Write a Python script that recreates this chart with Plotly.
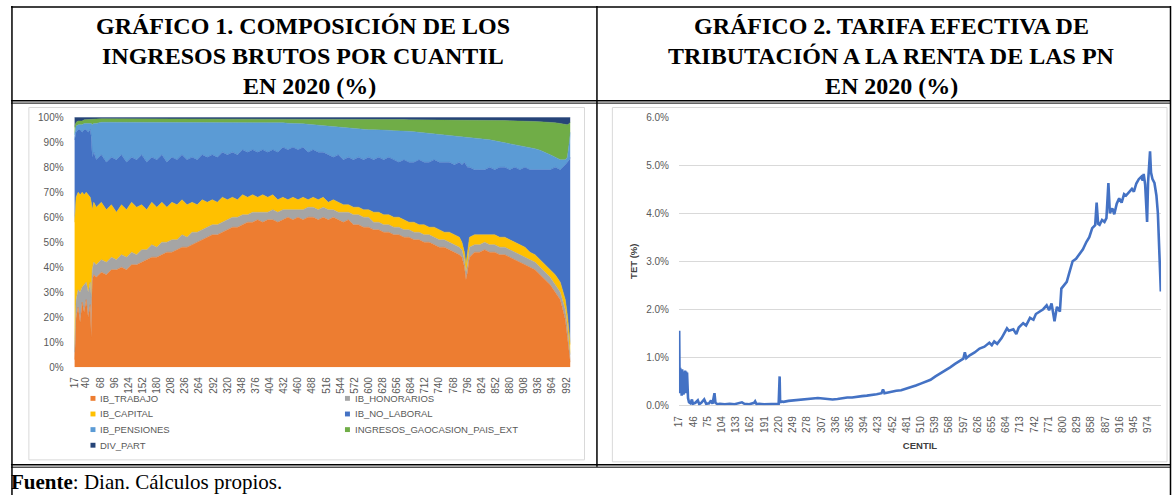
import plotly.graph_objects as go

W, H = 1173, 501

# ---------------- Chart 1 data: composition of gross income by quantile (%)
cent1 = [17, 20, 24, 28, 32, 36, 40, 44, 48, 50, 52, 55,
         60, 70, 80, 90, 100, 110, 120, 130, 140, 150, 160, 170, 180, 190, 200,
         210, 220, 230, 240, 250, 260, 270, 280, 290, 300, 310, 320, 330, 340,
         350, 360, 370, 380, 390, 400, 410, 420, 430, 440, 450, 460, 470, 480,
         490, 500, 510, 520, 530, 540, 550, 560, 570, 580, 590, 600, 610, 620,
         630, 640, 650, 660, 670, 680, 690, 700, 710, 720, 730, 740, 750, 760,
         770, 780, 785, 790, 793, 796, 800, 810, 820, 830, 840, 850, 860, 870,
         880, 890, 900, 910, 920, 930, 940, 950, 960, 970, 980, 990, 994, 998, 1000]

ib_trabajo = [3, 20, 24, 18, 26, 22, 27, 20, 25, 12, 35, 37,
              36, 38, 37, 39, 39, 40, 39, 41, 41, 42, 43, 44, 44, 45, 46,
              46, 47, 48, 48, 49, 50, 51, 52, 53, 53, 54, 55, 56, 56,
              57, 58, 58, 59, 58, 59, 59, 58, 59, 60, 59, 60, 59, 60,
              60, 59, 60, 59, 60, 59, 58, 59, 57, 57, 56, 56, 55, 55,
              54, 54, 53, 53, 52, 52, 51, 51, 50, 50, 49, 48, 48, 47,
              46, 45, 44, 40, 35, 38, 44, 46, 46, 47, 46, 46, 45, 45,
              44, 43, 42, 41, 40, 39, 37, 35, 33, 30, 27, 19, 13, 5, 2]
ib_honorarios = [3, 7, 7, 12, 6, 11, 7, 10, 9, 16, 4, 5,
                 5, 5, 5, 5, 4, 5, 5, 5, 4, 5, 4, 5, 4, 5, 4,
                 5, 4, 5, 4, 5, 4, 4, 4, 4, 4, 4, 4, 4, 4,
                 4, 3, 4, 3, 4, 3, 4, 4, 4, 3, 4, 3, 4, 4,
                 4, 4, 4, 4, 3, 3, 4, 3, 4, 4, 4, 4, 3, 3,
                 3, 3, 3, 3, 3, 3, 3, 3, 3, 3, 3, 3, 3, 3,
                 3, 3, 3, 3, 3, 3, 4, 3, 3, 3, 3, 3, 3, 3,
                 3, 3, 3, 3, 3, 3, 3, 3, 3, 3, 3, 4, 4, 3, 3]
ib_capital = [52, 41, 39, 39, 38, 36, 36, 39, 34, 38, 24, 24,
              23, 23, 21, 21, 19, 20, 19, 20, 19, 18, 16, 17, 16, 16, 14,
              15, 14, 14, 13, 12, 11, 12, 10, 10, 9, 10, 8, 8, 7,
              8, 7, 7, 6, 7, 6, 6, 5, 5, 4, 5, 4, 5, 3,
              4, 4, 4, 3, 4, 4, 3, 3, 3, 3, 3, 3, 4, 4,
              4, 4, 4, 4, 4, 3, 4, 3, 4, 3, 4, 4, 3, 4,
              4, 4, 3, 3, 3, 4, 4, 4, 4, 3, 4, 4, 4, 4,
              4, 4, 4, 4, 3, 3, 3, 3, 3, 4, 4, 4, 4, 5, 4]
ib_no_laboral = [33, 26, 25, 26, 24, 26, 25, 25, 27, 26, 21, 20,
                 19, 19, 19, 19, 21, 20, 19, 18, 19, 20, 19, 18, 19, 19, 18,
                 18, 18, 18, 18, 18, 18, 18, 18, 18, 18, 18, 18, 18, 18,
                 18, 18, 18, 18, 18, 18, 18, 19, 20, 20, 20, 20, 20, 19,
                 19, 19, 18, 19, 17, 19, 18, 19, 19, 20, 20, 21, 21, 22,
                 22, 23, 23, 22, 24, 24, 24, 26, 25, 26, 27, 27, 28, 28,
                 28, 30, 31, 36, 40, 35, 28, 26, 26, 26, 27, 26, 28, 28,
                 28, 30, 30, 32, 33, 34, 36, 38, 40, 43, 45, 54, 61, 70, 75]
ib_pensiones = [2, 2.5, 2, 2, 3, 2.5, 2.5, 3.5, 2.5, 5.5, 13, 11.5,
                14.5, 13, 16, 14, 15, 13, 16, 14, 15, 13, 16, 14, 15, 13, 16,
                14, 15, 13, 15, 14, 15, 13, 14, 13, 14, 12, 13, 12, 13,
                11, 12, 11, 12, 11, 12, 11, 12, 9.8, 10.6, 9.6, 10.4, 9.4, 11.2,
                10, 11, 10.8, 11.6, 12.4, 11.2, 13, 11.8, 12.6, 11.4, 12.2, 11, 12, 11,
                11.8, 10.8, 11.6, 12.6, 11.4, 12.4, 12.2, 11, 11.8, 11.6, 10.4, 11.2, 11, 10.8,
                11.6, 10.4, 11.3, 10.2, 11.2, 12.1, 12, 12.8, 12.6, 12.4, 11, 11.6, 10.2, 10,
                10.6, 9.2, 9.8, 8.4, 9, 8.4, 7.8, 7, 6, 4, 4, 2, 2, 7, 10]
ingresos_gaocasion = [3, 1.5, 1.5, 1.5, 1.5, 1.5, 1.5, 1.5, 1.5, 1.8, 2.3, 1.8,
                      1.8, 1.4, 1.4, 1.4, 1.4, 1.4, 1.4, 1.4, 1.4, 1.4, 1.4, 1.4, 1.4, 1.4, 1.4,
                      1.4, 1.4, 1.4, 1.4, 1.4, 1.4, 1.4, 1.4, 1.4, 1.4, 1.4, 1.4, 1.4, 1.4,
                      1.4, 1.4, 1.4, 1.4, 1.4, 1.4, 1.4, 1.4, 1.6, 1.8, 1.8, 2, 2, 2.2,
                      2.4, 2.4, 2.6, 2.8, 3, 3.2, 3.4, 3.5, 3.7, 3.9, 4.1, 4.2, 4.2, 4.2,
                      4.4, 4.3, 4.5, 4.5, 4.7, 4.6, 4.8, 5, 5.2, 5.4, 5.6, 5.7, 5.9, 6.1,
                      6.3, 6.5, 6.6, 6.7, 6.7, 6.8, 6.9, 7, 7.2, 7.4, 7.8, 8.2, 8.5, 8.7,
                      9, 9.4, 9.7, 10.1, 10.4, 10.9, 11.4, 12.1, 13, 13.8, 14.5, 14.2, 13, 7.5, 4]
div_part = [4, 2, 1.5, 1.5, 1.5, 1, 1, 1, 1, 0.7, 0.7, 0.7,
            0.7, 0.6, 0.6, 0.6, 0.6, 0.6, 0.6, 0.6, 0.6, 0.6, 0.6, 0.6, 0.6, 0.6, 0.6,
            0.6, 0.6, 0.6, 0.6, 0.6, 0.6, 0.6, 0.6, 0.6, 0.6, 0.6, 0.6, 0.6, 0.6,
            0.6, 0.6, 0.6, 0.6, 0.6, 0.6, 0.6, 0.6, 0.6, 0.6, 0.6, 0.6, 0.6, 0.6,
            0.6, 0.6, 0.6, 0.6, 0.6, 0.6, 0.6, 0.7, 0.7, 0.7, 0.7, 0.8, 0.8, 0.8,
            0.8, 0.9, 0.9, 0.9, 0.9, 1, 1, 1, 1, 1, 1, 1.1, 1.1, 1.1,
            1.1, 1.1, 1.1, 1.1, 1.1, 1.1, 1.1, 1.2, 1.2, 1.2, 1.2, 1.2, 1.3, 1.3,
            1.4, 1.4, 1.5, 1.5, 1.6, 1.7, 1.8, 1.9, 2, 2.2, 2.5, 2.8, 3, 2.5, 2]

series1 = [
    ("IB_TRABAJO", ib_trabajo, "#ED7D31"),
    ("IB_HONORARIOS", ib_honorarios, "#A5A5A5"),
    ("IB_CAPITAL", ib_capital, "#FFC000"),
    ("IB_NO_LABORAL", ib_no_laboral, "#4472C4"),
    ("IB_PENSIONES", ib_pensiones, "#5B9BD5"),
    ("INGRESOS_GAOCASION_PAIS_EXT", ingresos_gaocasion, "#70AD47"),
    ("DIV_PART", div_part, "#264478"),
]
legend_left = ["IB_TRABAJO", "IB_CAPITAL", "IB_PENSIONES", "DIV_PART"]
legend_right = ["IB_HONORARIOS", "IB_NO_LABORAL", "INGRESOS_GAOCASION_PAIS_EXT"]

ticks1 = [17, 40, 68, 96, 124, 152, 180, 208, 236, 264, 292, 320, 348, 376, 404,
          432, 460, 488, 516, 544, 572, 600, 628, 656, 684, 712, 740, 768, 796,
          824, 852, 880, 908, 936, 964, 992]
yticks1 = list(range(0, 101, 10))

# ---------------- Chart 2 data: effective tax rate by centile (%)
cent2 = [17, 18, 19, 20, 21, 22, 23, 24, 25, 26, 27, 28, 29, 30, 31, 32, 33, 35, 37,
         40, 43, 45, 50, 55, 58, 62, 68, 72, 78, 82, 85, 89, 91, 95, 100, 110, 120,
         130, 140, 145, 150, 160, 170, 172, 175, 180, 190, 200, 210, 215, 220, 222,
         223, 225, 230, 240, 250, 260, 270, 280, 290, 300, 310, 320, 330, 340, 350,
         360, 370, 380, 390, 400, 410, 420, 430, 433, 436, 440, 450, 460, 470, 480,
         490, 500, 510, 520, 530, 540, 550, 560, 570, 580, 590, 597, 600, 603, 610,
         620, 630, 640, 650, 655, 660, 666, 675, 686, 690, 699, 705, 710, 719, 725,
         733, 740, 745, 753, 760, 767, 772, 777, 780, 783, 788, 794, 797, 800, 808,
         813, 820, 827, 834, 841, 848, 854, 860, 866, 869, 872, 875, 880, 885, 889,
         893, 896, 901, 905, 910, 915, 920, 925, 929, 935, 941, 945, 950, 955, 960,
         963, 965, 968, 972, 974, 977, 978, 980, 983, 987, 991, 994, 997, 1000]
tet = [1.55, 0.25, 0.78, 0.3, 0.72, 0.2, 0.75, 0.35, 0.7, 0.22, 0.68, 0.3, 0.72,
       0.25, 0.7, 0.4, 0.68, 0.15, 0.06,
       0.04, 0.12, 0.03, 0.05, 0.1, 0.02, 0.05, 0.12, 0.03, 0.04, 0.1, 0.03, 0.25,
       0.05, 0.02, 0.03, 0.02, 0.03,
       0.02, 0.04, 0.06, 0.03, 0.02, 0.05, 0.08, 0.02, 0.03, 0.02, 0.02, 0.02, 0.03,
       0.03, 0.6,
       0.05, 0.08, 0.07, 0.09, 0.1, 0.11, 0.12, 0.12, 0.14, 0.15, 0.14, 0.13, 0.12,
       0.13, 0.15,
       0.16, 0.16, 0.18, 0.19, 0.2, 0.21, 0.23, 0.25, 0.33, 0.25, 0.26, 0.27, 0.3,
       0.31, 0.34,
       0.37, 0.41, 0.45, 0.49, 0.53, 0.6, 0.66, 0.73, 0.79, 0.86, 0.92, 0.97, 1.1,
       0.98, 1.04,
       1.1, 1.18, 1.22, 1.3, 1.25, 1.33, 1.28, 1.4, 1.6, 1.55, 1.58, 1.48, 1.62,
       1.71, 1.66,
       1.82, 1.78, 1.9, 1.95, 2.0, 2.08, 1.98, 2.12, 1.88, 1.75, 2.05, 1.95, 2.43,
       2.47, 2.57,
       2.75, 3.0, 3.05, 3.14, 3.25, 3.4, 3.5, 3.69, 3.75, 4.22, 3.78, 3.76, 3.86,
       3.82, 3.9,
       4.63, 4.0, 4.1, 3.98, 4.2, 4.31, 4.22, 4.4, 4.37, 4.45, 4.51, 4.45, 4.62,
       4.71, 4.76,
       4.68, 4.82, 4.6, 3.82, 4.65, 5.1, 5.29, 4.85, 4.71, 4.63, 4.37, 4.0, 3.0, 2.37]

ticks2 = [17, 46, 75, 104, 133, 162, 191, 220, 249, 278, 307, 336, 365, 394, 423,
          452, 481, 510, 539, 568, 597, 626, 655, 684, 713, 742, 771, 800, 829,
          858, 887, 916, 945, 974]
yticks2 = [0, 1, 2, 3, 4, 5, 6]

# ---------------- helpers for pixel -> paper coordinates
def px(x):
    return x / W

def py(y):
    return 1 - y / H

TXT = "#595959"
SANS = "Liberation Sans"
SERIF = "Liberation Serif"

fig = go.Figure()

for name, vals, col in series1:
    fig.add_trace(go.Scatter(
        x=cent1, y=vals, name=name, mode="lines",
        line=dict(width=0.5, color=col), fillcolor=col,
        stackgroup="one", groupnorm="percent",
        xaxis="x", yaxis="y", showlegend=False, hoverinfo="skip"))

fig.add_trace(go.Scatter(
    x=cent2, y=tet, mode="lines", line=dict(color="#4472C4", width=2.6),
    xaxis="x2", yaxis="y2", showlegend=False, name="TET"))

axfont = dict(family=SANS, size=10, color=TXT)

fig.update_layout(
    width=W, height=H,
    margin=dict(l=0, r=0, t=0, b=0),
    paper_bgcolor="white", plot_bgcolor="white",
    showlegend=False,
    xaxis=dict(domain=[px(68), px(568)], range=[15, 1000.5],
               tickvals=ticks1, ticktext=[str(t) for t in ticks1],
               tickangle=-90, tickfont=axfont, showgrid=False, zeroline=False,
               showline=False, ticks="", ticklabelstandoff=7, anchor="y"),
    yaxis=dict(domain=[py(370), py(114)], range=[0, 100],
               tickvals=yticks1, ticktext=[f"{t}%" for t in yticks1],
               tickfont=axfont, showgrid=False, zeroline=False, showline=False,
               ticks="", ticklabelstandoff=9, anchor="x"),
    xaxis2=dict(domain=[px(677), px(1162)], range=[16.5, 1000.5],
                tickvals=ticks2, ticktext=[str(t) for t in ticks2],
                tickangle=-90, tickfont=axfont, showgrid=False, zeroline=False,
                showline=False, ticks="", ticklabelstandoff=8, anchor="y2",
                title=dict(text="<b>CENTIL</b>", font=dict(family=SANS, size=9.5, color="#404040"),
                           standoff=10)),
    yaxis2=dict(domain=[py(409), py(114)], range=[0, 6],
                tickvals=yticks2, ticktext=[f"{t:.1f}%" for t in yticks2],
                tickfont=axfont,
                showgrid=True, gridcolor="#D9D9D9", gridwidth=1,
                zeroline=True, zerolinecolor="#D9D9D9", zerolinewidth=1,
                showline=False, ticks="", ticklabelstandoff=9, anchor="x2",
                title=dict(text="<b>TET (%)</b>", font=dict(family=SANS, size=9.5, color="#404040"),
                           standoff=6)),
)

# ---------------- table frame, chart frames, legend swatches
shapes = []
def hline(y, x0, x1, w=1.5, c="black"):
    shapes.append(dict(type="line", xref="paper", yref="paper", x0=px(x0), x1=px(x1),
                       y0=py(y), y1=py(y), line=dict(color=c, width=w)))
def vline(x, y0, y1, w=1.5, c="black"):
    shapes.append(dict(type="line", xref="paper", yref="paper", x0=px(x), x1=px(x),
                       y0=py(y0), y1=py(y1), line=dict(color=c, width=w)))

shapes.append(dict(type="rect", xref="paper", yref="paper", x0=px(23), x1=px(582),
                   y0=py(465), y1=py(104), line=dict(color="#D9D9D9", width=1)))
shapes.append(dict(type="rect", xref="paper", yref="paper", x0=px(610), x1=px(1168),
                   y0=py(467), y1=py(104), line=dict(color="#D9D9D9", width=1)))

hline(1, 5, 1172)
hline(97, 5, 1172)
hline(99.5, 5, 1172, w=1)
hline(470, 5, 1172)
hline(472.5, 5, 1172, w=1)
vline(6, 0, 501)
vline(594.5, 0, 472)
vline(1171.5, 0, 501)

ann = []
colors = {n: c for n, _, c in series1}
for col_names, sx, tx in ((legend_left, 85, 93), (legend_right, 341, 349)):
    for i, n in enumerate(col_names):
        yc = 402 + i * 16
        shapes.append(dict(type="rect", xref="paper", yref="paper",
                           x0=px(sx), x1=px(sx + 5), y0=py(yc + 2.5), y1=py(yc - 2.5),
                           line=dict(width=0), fillcolor=colors[n]))
        ann.append(dict(xref="paper", yref="paper", x=px(tx), y=py(yc), text=n,
                        showarrow=False, xanchor="left", yanchor="middle",
                        font=dict(family=SANS, size=9.5, color=TXT)))
fig.update_layout(shapes=shapes)

# ---------------- titles and source note
def text(x, y, s, size=24, xanchor="center", bold=True):
    ann.append(dict(xref="paper", yref="paper", x=px(x), y=py(y), text=(f"<b>{s}</b>" if bold else s),
                    showarrow=False, xanchor=xanchor, yanchor="middle",
                    font=dict(family=SERIF, size=size, color="black")))

text(299, 20, "GRÁFICO 1. COMPOSICIÓN DE LOS")
text(299, 51, "INGRESOS BRUTOS POR CUANTIL")
text(305, 82, "EN 2020 (%)")
text(891, 20, "GRÁFICO 2. TARIFA EFECTIVA DE")
text(891, 51, "TRIBUTACIÓN A LA RENTA DE LAS PN")
text(891, 82, "EN 2020 (%)")
text(3, 488, "<b>Fuente</b>: Dian. Cálculos propios.", size=21, xanchor="left", bold=False)
fig.update_layout(annotations=ann)

fig.write_html("out.html", config={"displayModeBar": False},
               post_script="document.body.style.margin='0px';document.body.style.overflow='hidden';")
